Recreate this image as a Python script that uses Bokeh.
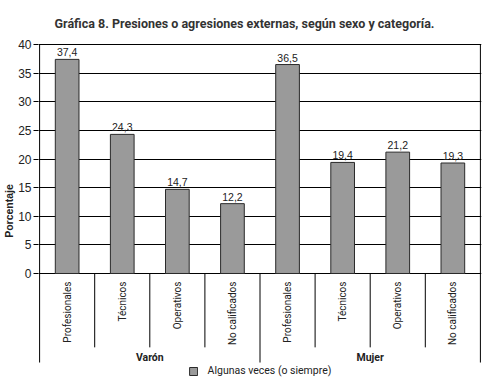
import math
from bokeh.plotting import figure
from bokeh.models import Range1d, FixedTicker
from bokeh.core.properties import value
from bokeh.embed import file_html
from bokeh.resources import INLINE

title_text = "Gráfica 8. Presiones o agresiones externas, según sexo y categoría."
groups = ["Varón", "Mujer"]
categories = ["Profesionales", "Técnicos", "Operativos", "No calificados"]
varon = [37.4, 24.3, 14.7, 12.2]
mujer = [36.5, 19.4, 21.2, 19.3]
series_name = "Algunas veces (o siempre)"
y_ticks = [0, 5, 10, 15, 20, 25, 30, 35, 40]
y_label = "Porcentaje"

values = varon + mujer
labels = categories * len(groups)
n = len(values)
xs = [i + 0.5 for i in range(n)]
value_text = [f"{v:.1f}".replace(".", ",") for v in values]

NARROW = "Roboto"
SANS = "Liberation Sans"

p = figure(width=484, height=378, output_backend="svg", toolbar_location=None,
           x_range=Range1d(-0.02, n + 0.02), y_range=Range1d(-18.341, 40.175),
           x_axis_location=None,
           min_border_left=32, min_border_right=3, min_border_top=43, min_border_bottom=0)
p.outline_line_color = None
p.background_fill_color = "white"
p.border_fill_color = "white"

# y axis
p.yaxis.ticker = FixedTicker(ticks=y_ticks)
p.yaxis.axis_line_color = None
p.yaxis.major_tick_out = 5
p.yaxis.major_tick_in = 0
p.yaxis.minor_tick_line_color = None
p.yaxis.major_tick_line_color = "black"
p.yaxis.major_label_text_font = SANS
p.yaxis.major_label_text_font_size = "12px"
p.yaxis.major_label_text_color = "#222222"
p.yaxis.major_label_standoff = 2
p.yaxis.axis_label = y_label
p.yaxis.axis_label_text_font = SANS
p.yaxis.axis_label_text_font_style = "bold"
p.yaxis.axis_label_text_font_size = "10.5px"
p.yaxis.axis_label_text_color = "#222222"
p.yaxis.axis_label_standoff = 0

p.ygrid.grid_line_color = "black"
p.ygrid.grid_line_width = 1
p.xgrid.visible = False

# frame and separator lines
ngrp = len(groups)
ncat = len(categories)
long_x = [g * ncat for g in range(ngrp + 1)]
short_x = [g * ncat + c for g in range(ngrp) for c in range(1, ncat)]
sx0 = long_x + short_x
sy0 = [40 if (x == 0 or x == n) else 0 for x in long_x] + [0] * len(short_x)
sy1 = [-15.55] * len(long_x) + [-12.9] * len(short_x)
p.segment(x0=sx0, y0=sy0, x1=sx0, y1=sy1, line_color="black", line_width=1)

# bars
p.vbar(x=xs, top=values, width=0.43, fill_color="#9a9a9a", line_color="#2a2a2a",
       line_width=1, legend_label=series_name)

# value labels
p.text(x=xs, y=values, text=value_text, text_align="center", text_baseline="bottom",
       y_offset=-3, text_font=value(SANS), text_font_size="10.5px", text_color="#222222")

# category labels
p.text(x=xs, y=[-1.4] * n, text=labels, angle=math.pi / 2, text_align="right",
       text_baseline="middle", text_font=value(NARROW), text_font_size="10px",
       text_color="#222222")

# group labels
gx = [g * ncat + ncat / 2 for g in range(ngrp)]
p.text(x=gx, y=[-14.7] * ngrp, text=groups, text_align="center", text_baseline="middle",
       text_font=value(NARROW), text_font_style="bold", text_font_size="10.5px",
       text_color="#222222")

# title
p.title.text = title_text
p.title.align = "left"
p.title.offset = 16
p.title.standoff = 25
p.title.text_font = NARROW
p.title.text_font_style = "bold"
p.title.text_font_size = "12.5px"
p.title.text_color = "#333333"

# legend
lg = p.legend[0]
lg.location = "bottom_center"
lg.orientation = "horizontal"
lg.border_line_color = None
lg.background_fill_alpha = 0
lg.glyph_width = 10
lg.glyph_height = 10
lg.label_height = 10
lg.label_standoff = 10
lg.padding = 0
lg.margin = 1
lg.label_text_font = NARROW
lg.label_text_font_size = "10.5px"
lg.label_text_color = "#222222"
lg.label_text_baseline = "middle"

open("out.html", "w").write(file_html(p, INLINE))
